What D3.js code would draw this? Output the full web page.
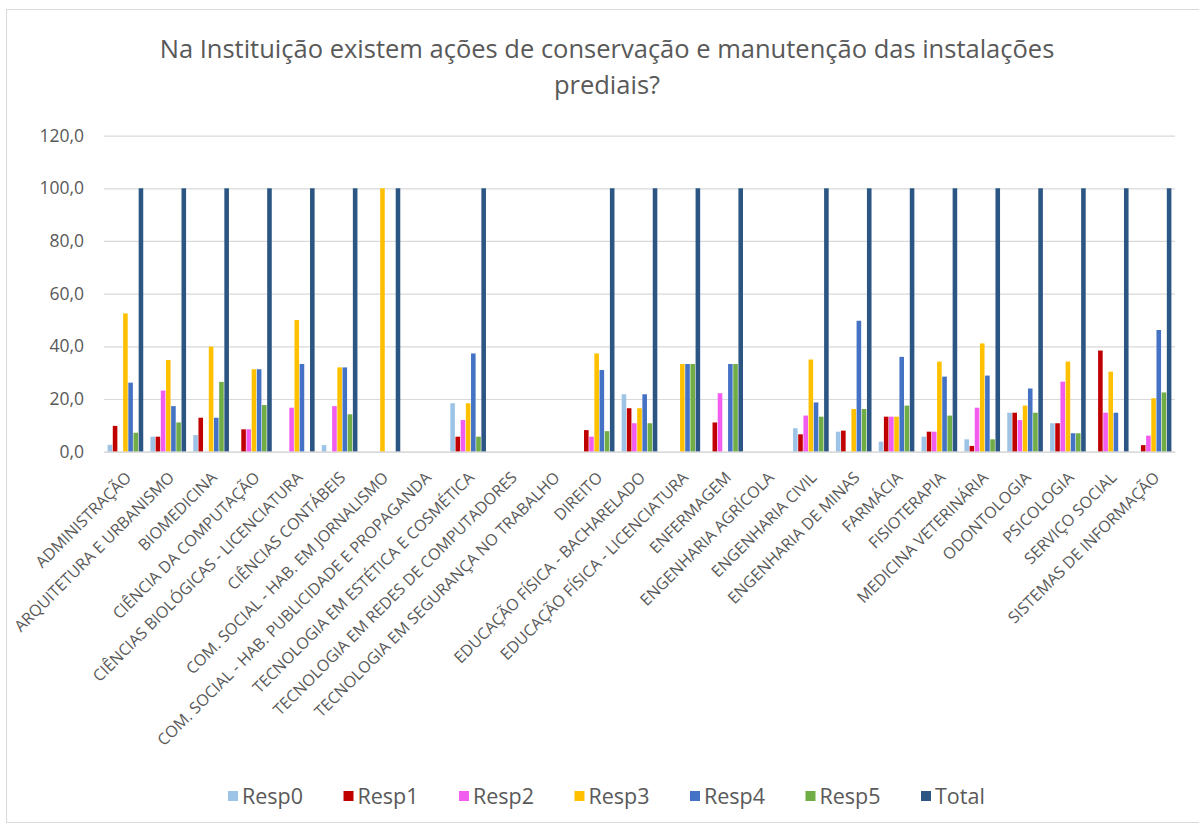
<!DOCTYPE html>
<html>
<head>
<meta charset="utf-8">
<script src="https://cdn.jsdelivr.net/npm/d3@7"></script>
<style>
  html, body { margin: 0; padding: 0; background: #fff; }
  svg { display: block; }
</style>
</head>
<body>
<svg id="chart" width="1199" height="828"></svg>
<script>
const categories = [
  "ADMINISTRAÇÃO", "ARQUITETURA E URBANISMO", "BIOMEDICINA", "CIÊNCIA DA COMPUTAÇÃO",
  "CIÊNCIAS BIOLÓGICAS - LICENCIATURA", "CIÊNCIAS CONTÁBEIS", "COM. SOCIAL - HAB. EM JORNALISMO",
  "COM. SOCIAL - HAB. PUBLICIDADE E PROPAGANDA", "TECNOLOGIA EM ESTÉTICA E COSMÉTICA",
  "TECNOLOGIA EM REDES DE COMPUTADORES", "TECNOLOGIA EM SEGURANÇA NO TRABALHO", "DIREITO",
  "EDUCAÇÃO FÍSICA - BACHARELADO", "EDUCAÇÃO FÍSICA - LICENCIATURA", "ENFERMAGEM",
  "ENGENHARIA AGRÍCOLA", "ENGENHARIA CIVIL", "ENGENHARIA DE MINAS", "FARMÁCIA", "FISIOTERAPIA",
  "MEDICINA VETERINÁRIA", "ODONTOLOGIA", "PSICOLOGIA", "SERVIÇO SOCIAL", "SISTEMAS DE INFORMAÇÃO"
];
const seriesNames = ["Resp0", "Resp1", "Resp2", "Resp3", "Resp4", "Resp5", "Total"];
const resp0 = [2.6, 5.7, 6.3, 0, 0, 2.5, 0, 0, 18.4, 0, 0, 0, 21.8, 0, 0, 0, 8.9, 7.6, 3.8, 5.7, 4.7, 14.8, 10.8, 0, 0];
const resp1 = [9.8, 5.7, 12.9, 8.5, 0, 0, 0, 0, 5.7, 0, 0, 8.2, 16.5, 0, 11.1, 0, 6.6, 8.0, 13.3, 7.6, 2.2, 14.8, 10.8, 38.4, 2.5];
const resp2 = [0, 23.2, 0, 8.5, 16.7, 17.3, 0, 0, 12.0, 0, 0, 5.7, 10.8, 0, 22.2, 0, 13.7, 0, 13.3, 7.6, 16.7, 12.0, 26.6, 14.8, 6.1];
const resp3 = [52.5, 34.8, 39.9, 31.3, 50.0, 32.0, 100, 0, 18.4, 0, 0, 37.3, 16.5, 33.3, 0, 0, 35.0, 16.2, 13.3, 34.2, 41.1, 17.5, 34.2, 30.4, 20.3];
const resp4 = [26.2, 17.3, 12.9, 31.3, 33.3, 32.0, 0, 0, 37.3, 0, 0, 31.0, 21.8, 33.3, 33.3, 0, 18.7, 49.7, 36.0, 28.5, 28.9, 24.0, 7.0, 14.8, 46.2];
const resp5 = [7.2, 11.1, 26.5, 17.7, 0, 14.2, 0, 0, 5.7, 0, 0, 7.8, 10.8, 33.3, 33.3, 0, 13.3, 16.2, 17.5, 13.7, 4.7, 14.8, 7.0, 0, 22.5];
const total = [100, 100, 100, 100, 100, 100, 100, 0, 100, 0, 0, 100, 100, 100, 100, 0, 100, 100, 100, 100, 100, 100, 100, 100, 100];
const yTicks = [0, 20, 40, 60, 80, 100, 120];
const titleLines = ["Na Instituição existem ações de conservação e manutenção das instalações", "prediais?"];

const seriesValues = [resp0, resp1, resp2, resp3, resp4, resp5, total];
const colors = ["#9DC3E6", "#C00000", "#F25CEF", "#FFC000", "#4472C4", "#70AD47", "#2B5583"];

const svg = d3.select("#chart");
const FONT = "'Open Sans', 'Noto Sans', sans-serif";
const textColor = "#595959";

// chart border
svg.append("rect").attr("x", 6.5).attr("y", 9.5).attr("width", 1210).attr("height", 813)
  .attr("fill", "#fff").attr("stroke", "#D9D9D9").attr("stroke-width", 1);

const plotLeft = 104, plotRight = 1175, plotTop = 135.6, plotBottom = 451.7;

const x0 = d3.scaleBand().domain(categories).range([plotLeft, plotRight])
  .paddingInner(0.154).paddingOuter(0.077);
const x1 = d3.scaleBand().domain(seriesNames).range([0, x0.bandwidth()]);
const y = d3.scaleLinear().domain([0, 120]).range([plotBottom, plotTop]);

// gridlines + y labels
const yAxis = d3.axisLeft(y).tickValues(yTicks).tickSize(-(plotRight - plotLeft)).tickPadding(20)
  .tickFormat(d => d3.format(".1f")(d).replace(".", ","));
const gy = svg.append("g").attr("transform", `translate(${plotLeft},0)`).call(yAxis);
gy.select(".domain").remove();
gy.selectAll(".tick line").attr("stroke", "#D9D9D9").attr("stroke-width", 1.2);
gy.selectAll(".tick text").attr("fill", textColor).style("font-family", FONT).style("font-size", "17.5px");

// bars
const rows = categories.map((c, i) => ({ cat: c, vals: seriesNames.map((s, k) => ({ s, k, v: seriesValues[k][i] })) }));
const groups = svg.append("g").selectAll("g").data(rows).join("g")
  .attr("transform", d => `translate(${x0(d.cat)},0)`);
groups.selectAll("rect").data(d => d.vals.filter(e => e.v > 0)).join("rect")
  .attr("x", d => x1(d.s) + 0.3)
  .attr("width", x1.bandwidth() - 0.6)
  .attr("y", d => y(d.v))
  .attr("height", d => y(0) - y(d.v))
  .attr("fill", d => colors[d.k]);

// x axis labels
const xAxis = d3.axisBottom(x0).tickSize(0).tickPadding(0);
const gx = svg.append("g").attr("transform", `translate(0,${plotBottom})`).call(xAxis);
gx.select(".domain").attr("stroke", "#D9D9D9").attr("stroke-width", 1.2);
gx.selectAll(".tick text")
  .attr("fill", textColor)
  .style("font-family", FONT).style("font-size", "16px")
  .attr("text-anchor", "end")
  .attr("transform", "translate(-1,19) rotate(-45)")
  .attr("dy", "0.7em").attr("y", 0).attr("x", 0);

// title
const titleG = svg.append("g");
titleLines.forEach((t, i) => {
  titleG.append("text").attr("x", 607).attr("y", 58 + i * 36).attr("text-anchor", "middle")
    .attr("fill", textColor).style("font-family", FONT).style("font-size", "21px").text(t);
});
const t0 = titleG.select("text").node();
const w0 = t0.getComputedTextLength();
const fs = 21 * 895 / w0;
titleG.selectAll("text").style("font-size", fs + "px");

// legend
const legend = svg.append("g");
const itemW = 115.5;
const legStart = 228;
seriesNames.forEach((s, k) => {
  const g = legend.append("g").attr("transform", `translate(${legStart + k * itemW},796)`);
  g.append("rect").attr("x", 0).attr("y", -5).attr("width", 10).attr("height", 10).attr("fill", colors[k]);
  g.append("text").attr("x", 14).attr("y", 0).attr("dy", "0.36em").attr("fill", textColor)
    .style("font-family", FONT).style("font-size", "21.5px").text(s);
});
</script>
</body>
</html>
